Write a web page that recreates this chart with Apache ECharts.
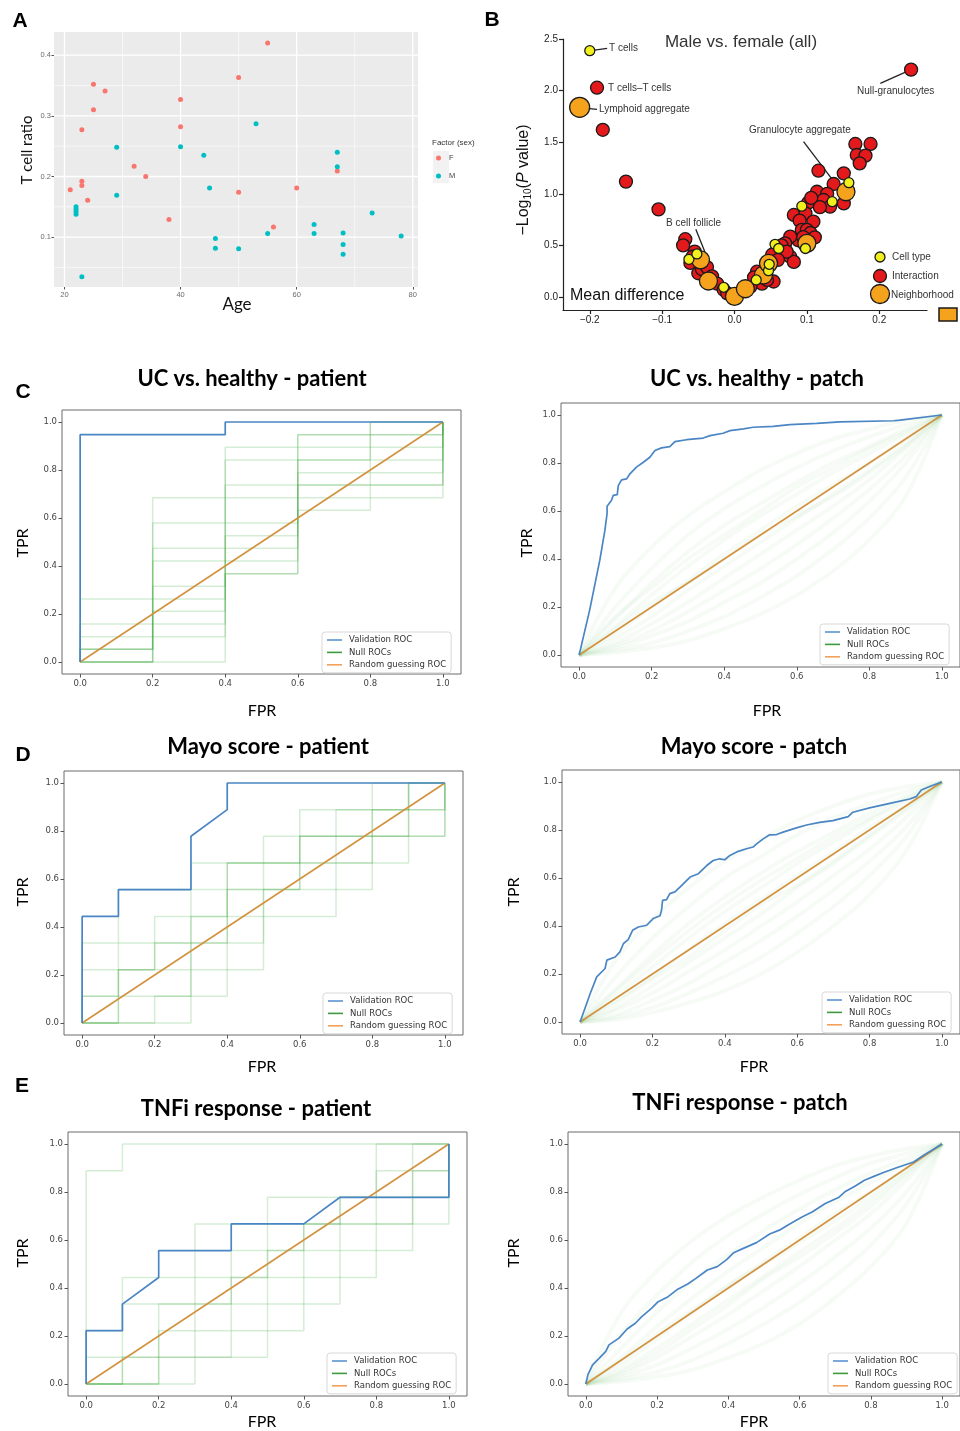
<!DOCTYPE html>
<html>
<head>
<meta charset="utf-8">
<script src="https://cdn.jsdelivr.net/npm/echarts@6/dist/echarts.min.js"></script>
<style>
  html, body { margin: 0; padding: 0; background: #fff; }
  #chart { width: 960px; height: 1431px; }
</style>
</head>
<body>
<div id="chart"></div>
<script>
// ---------- A: T cell ratio vs age ----------
const femaleAge   = [21, 25, 27, 25, 23, 23, 23, 24, 32, 34, 38, 40, 40, 50, 50, 55, 56, 60, 67];
const femaleRatio = [0.178, 0.352, 0.341, 0.310, 0.277, 0.192, 0.185, 0.161, 0.217, 0.200, 0.129, 0.327, 0.282, 0.363, 0.174, 0.420, 0.117, 0.181, 0.209];
const maleAge     = [22, 22, 22, 22, 23, 29, 29, 40, 44, 45, 46, 46, 50, 53, 55, 63, 63, 67, 67, 68, 68, 68, 73, 78];
const maleRatio   = [0.150, 0.146, 0.142, 0.138, 0.035, 0.248, 0.169, 0.249, 0.235, 0.181, 0.098, 0.082, 0.081, 0.287, 0.106, 0.121, 0.106, 0.240, 0.216, 0.107, 0.088, 0.072, 0.140, 0.102];
const ageTicks   = [20, 40, 60, 80];
const ageMinor   = [30, 50, 70];
const ratioTicks = [0.1, 0.2, 0.3, 0.4];
const ratioMinor = [0.05, 0.15, 0.25, 0.35];
const ageRange   = [18.2, 80.9];
const ratioRange = [0.018, 0.438];

// ---------- B: volcano, mean difference vs -log10 p ----------
const cellTypeX = [-0.200, -0.063, -0.052, -0.015, 0.030, 0.047, 0.048, 0.056, 0.061, 0.093, 0.098, 0.135, 0.158];
const cellTypeY = [2.387, 0.365, 0.417, 0.094, 0.165, 0.255, 0.317, 0.51, 0.47, 0.88, 0.47, 0.924, 1.108];
const interX = [-0.190, -0.182, -0.150, -0.105, -0.068, -0.071, -0.055, -0.058, -0.061, -0.050, -0.045, -0.038, -0.031, -0.024, -0.015, -0.010,
  0.244, 0.167, 0.188, 0.169, 0.181, 0.173, 0.116, 0.151, 0.137, 0.114, 0.128, 0.123, 0.102, 0.106, 0.132, 0.118, 0.151, 0.082, 0.098,
  0.109, 0.090, 0.093, 0.100, 0.105, 0.111, 0.088, 0.077, 0.070, 0.065, 0.059, 0.052, 0.077, 0.082, 0.031, 0.042, 0.038, 0.054, 0.045, 0.022, 0.012,
  0.072, 0.095, 0.060, 0.027];
const interY = [2.028, 1.62, 1.118, 0.849, 0.56, 0.50, 0.44, 0.39, 0.33, 0.23, 0.27, 0.29, 0.20, 0.13, 0.07, 0.035,
  2.203, 1.483, 1.483, 1.376, 1.37, 1.295, 1.224, 1.198, 1.095, 1.02, 1.0, 0.94, 0.914, 0.96, 0.875, 0.87, 0.907, 0.795, 0.81,
  0.73, 0.74, 0.65, 0.65, 0.62, 0.578, 0.55, 0.585, 0.52, 0.50, 0.46, 0.41, 0.39, 0.34, 0.245, 0.22, 0.13, 0.15, 0.165, 0.10, 0.068,
  0.44, 0.58, 0.36, 0.19];
const hoodX = [-0.214, -0.047, -0.036, 0.000, 0.015, 0.040, 0.047, 0.100, 0.154];
const hoodY = [1.838, 0.36, 0.155, 0.006, 0.08, 0.213, 0.326, 0.52, 1.02];
const annoFrom = [[-0.196, 2.39], [-0.207, 1.83], [0.244, 2.203], [0.146, 1.037], [-0.0327, 0.294]];
const annoTo   = [[-0.176, 2.41], [-0.190, 1.818], [0.2015, 2.07], [0.0954, 1.505], [-0.0535, 0.656]];
const diffTicks = [-0.2, -0.1, 0, 0.1, 0.2];
const pTicks    = [0, 0.5, 1, 1.5, 2, 2.5];

// ---------- ROC curves ----------
const rocTicks = [0, 0.2, 0.4, 0.6, 0.8, 1.0];
const diagFpr = [0, 1];
const diagTpr = [0, 1];

const valC1Fpr = [0, 0, 0.4, 0.4, 1];
const valC1Tpr = [0, 0.947, 0.947, 1, 1];
const valC2Fpr = [0, 0.029, 0.057, 0.071, 0.077, 0.077, 0.089, 0.094, 0.105, 0.108, 0.117, 0.131, 0.140, 0.158, 0.177, 0.195, 0.209, 0.227, 0.250, 0.264, 0.296, 0.342, 0.361, 0.397, 0.416, 0.453, 0.480, 0.535, 0.581, 0.655, 0.719, 0.867, 0.885, 1];
const valC2Tpr = [0, 0.187, 0.395, 0.519, 0.589, 0.620, 0.644, 0.665, 0.668, 0.706, 0.730, 0.734, 0.755, 0.783, 0.803, 0.824, 0.852, 0.863, 0.868, 0.889, 0.897, 0.904, 0.914, 0.924, 0.935, 0.942, 0.949, 0.953, 0.960, 0.965, 0.971, 0.976, 0.979, 1];
const valD1Fpr = [0, 0, 0.1, 0.1, 0.3, 0.3, 0.4, 0.4, 1];
const valD1Tpr = [0, 0.444, 0.444, 0.556, 0.556, 0.778, 0.889, 1, 1];
const valD2Fpr = [0, 0.028, 0.046, 0.069, 0.074, 0.097, 0.110, 0.120, 0.133, 0.145, 0.161, 0.184, 0.202, 0.221, 0.225, 0.228, 0.239, 0.248, 0.262, 0.281, 0.304, 0.327, 0.350, 0.368, 0.386, 0.400, 0.414, 0.437, 0.460, 0.478, 0.488, 0.506, 0.524, 0.543, 0.561, 0.598, 0.626, 0.662, 0.699, 0.741, 0.754, 0.800, 0.856, 0.911, 0.929, 0.943, 0.966, 1];
const valD2Tpr = [0, 0.119, 0.188, 0.223, 0.258, 0.271, 0.292, 0.327, 0.343, 0.382, 0.396, 0.403, 0.431, 0.443, 0.465, 0.507, 0.510, 0.535, 0.542, 0.569, 0.604, 0.618, 0.652, 0.673, 0.680, 0.676, 0.694, 0.711, 0.722, 0.729, 0.742, 0.763, 0.780, 0.781, 0.791, 0.809, 0.821, 0.832, 0.839, 0.856, 0.874, 0.892, 0.911, 0.929, 0.939, 0.967, 0.981, 1];
const valE1Fpr = [0, 0, 0.1, 0.1, 0.2, 0.2, 0.4, 0.4, 0.6, 0.7, 1, 1];
const valE1Tpr = [0, 0.222, 0.222, 0.333, 0.444, 0.556, 0.556, 0.667, 0.667, 0.778, 0.778, 1];
const valE2Fpr = [0, 0.006, 0.019, 0.038, 0.056, 0.065, 0.093, 0.116, 0.139, 0.157, 0.185, 0.203, 0.231, 0.258, 0.286, 0.309, 0.341, 0.369, 0.396, 0.415, 0.442, 0.479, 0.516, 0.543, 0.571, 0.608, 0.635, 0.672, 0.709, 0.727, 0.755, 0.782, 0.810, 0.837, 0.874, 0.920, 0.948, 1];
const valE2Tpr = [0, 0.039, 0.080, 0.108, 0.136, 0.163, 0.191, 0.229, 0.253, 0.281, 0.316, 0.343, 0.364, 0.395, 0.417, 0.440, 0.475, 0.489, 0.519, 0.547, 0.565, 0.589, 0.625, 0.641, 0.666, 0.697, 0.717, 0.752, 0.777, 0.801, 0.824, 0.849, 0.866, 0.882, 0.902, 0.925, 0.953, 1];

// null ROCs, patient level: step curves as [fpr, tpr] points
const nullC1 = [
  [[0,0],[0,0.053],[0.2,0.053],[0.2,0.421],[0.4,0.421],[0.4,0.684],[0.6,0.684],[0.6,0.947],[0.8,0.947],[0.8,1],[1,1]],
  [[0,0],[0.2,0],[0.2,0.263],[0.4,0.263],[0.4,0.579],[0.6,0.579],[0.6,0.842],[0.8,0.842],[0.8,0.895],[1,0.895],[1,1]],
  [[0,0],[0,0.053],[0.2,0.053],[0.2,0.211],[0.4,0.211],[0.4,0.474],[0.6,0.474],[0.6,0.737],[0.8,0.737],[0.8,0.789],[1,0.789],[1,1]],
  [[0,0],[0.4,0],[0.4,0.368],[0.6,0.368],[0.6,0.632],[0.8,0.632],[0.8,0.684],[1,0.684],[1,1]],
  [[0,0],[0,0.158],[0.2,0.158],[0.2,0.579],[0.4,0.579],[0.4,0.895],[0.6,0.895],[0.6,0.947],[1,0.947],[1,1]],
  [[0,0],[0,0.053],[0.2,0.053],[0.2,0.316],[0.4,0.316],[0.4,0.526],[0.6,0.526],[0.6,0.789],[0.8,0.789],[0.8,0.842],[1,0.842],[1,1]],
  [[0,0],[0.2,0],[0.2,0.105],[0.4,0.105],[0.4,0.368],[0.6,0.368],[0.6,0.684],[0.8,0.684],[0.8,0.737],[1,0.737],[1,1]],
  [[0,0],[0,0.263],[0.2,0.263],[0.2,0.684],[0.4,0.684],[0.4,0.842],[0.8,0.842],[0.8,0.947],[1,0.947],[1,1]],
  [[0,0],[0.2,0],[0.2,0.158],[0.4,0.158],[0.4,0.421],[0.6,0.421],[0.6,0.737],[1,0.737],[1,1]],
  [[0,0],[0,0.105],[0.2,0.105],[0.2,0.474],[0.4,0.474],[0.4,0.737],[0.6,0.737],[0.6,0.895],[0.8,0.895],[0.8,1],[1,1]]
];
const nullD1 = [
  [[0,0],[0,0.111],[0.1,0.111],[0.1,0.222],[0.2,0.222],[0.2,0.333],[0.4,0.333],[0.4,0.556],[0.6,0.556],[0.6,0.778],[0.9,0.778],[0.9,1],[1,1]],
  [[0,0],[0.2,0],[0.2,0.111],[0.4,0.111],[0.4,0.444],[0.5,0.444],[0.5,0.667],[0.8,0.667],[0.8,0.889],[1,0.889],[1,1]],
  [[0,0],[0.1,0],[0.1,0.222],[0.3,0.222],[0.3,0.444],[0.4,0.444],[0.4,0.667],[0.7,0.667],[0.7,0.889],[0.9,0.889],[0.9,1],[1,1]],
  [[0,0],[0,0.111],[0.1,0.111],[0.1,0.333],[0.3,0.333],[0.3,0.556],[0.6,0.556],[0.6,0.778],[1,0.778],[1,1]],
  [[0,0],[0.1,0],[0.1,0.111],[0.3,0.111],[0.3,0.333],[0.5,0.333],[0.5,0.556],[0.8,0.556],[0.8,0.778],[0.9,0.778],[0.9,0.889],[1,0.889],[1,1]],
  [[0,0],[0,0.222],[0.2,0.222],[0.2,0.444],[0.4,0.444],[0.4,0.667],[0.6,0.667],[0.6,0.889],[0.9,0.889],[0.9,1],[1,1]],
  [[0,0],[0.3,0],[0.3,0.222],[0.5,0.222],[0.5,0.444],[0.7,0.444],[0.7,0.667],[0.9,0.667],[0.9,0.778],[1,0.778],[1,1]],
  [[0,0],[0,0.333],[0.1,0.333],[0.1,0.556],[0.3,0.556],[0.3,0.667],[0.5,0.667],[0.5,0.778],[0.8,0.778],[0.8,1],[1,1]]
];
const nullE1 = [
  [[0,0],[0.1,0],[0.1,0.111],[0.3,0.111],[0.3,0.333],[0.5,0.333],[0.5,0.556],[0.7,0.556],[0.7,0.778],[0.9,0.778],[0.9,1],[1,1]],
  [[0,0],[0,0.111],[0.2,0.111],[0.2,0.333],[0.4,0.333],[0.4,0.444],[0.6,0.444],[0.6,0.667],[0.9,0.667],[0.9,0.889],[1,0.889],[1,1]],
  [[0,0],[0.2,0],[0.2,0.222],[0.4,0.222],[0.4,0.556],[0.6,0.556],[0.6,0.667],[0.8,0.667],[0.8,0.889],[1,0.889],[1,1]],
  [[0,0],[0.1,0],[0.1,0.333],[0.3,0.333],[0.3,0.444],[0.5,0.444],[0.5,0.667],[0.7,0.667],[0.7,0.778],[1,0.778],[1,1]],
  [[0,0],[0.3,0],[0.3,0.111],[0.5,0.111],[0.5,0.333],[0.7,0.333],[0.7,0.556],[0.9,0.556],[0.9,0.778],[1,0.778],[1,1]],
  [[0,0],[0,0.222],[0.1,0.222],[0.1,0.444],[0.3,0.444],[0.3,0.667],[0.5,0.667],[0.5,0.778],[0.8,0.778],[0.8,1],[1,1]],
  [[0,0],[0.2,0],[0.2,0.111],[0.4,0.111],[0.4,0.222],[0.6,0.222],[0.6,0.444],[0.8,0.444],[0.8,0.667],[1,0.667],[1,1]],
  [[0,0],[0,0.889],[0.1,0.889],[0.1,1],[1,1]]
];
// null ROCs, patch level: tpr read at these fpr points
const nullGridFpr = [0, 0.1, 0.2, 0.3, 0.4, 0.5, 0.6, 0.7, 0.8, 0.9, 1];
const nullC2 = [
  [0, 0.28, 0.45, 0.58, 0.68, 0.77, 0.84, 0.90, 0.94, 0.98, 1],
  [0, 0.20, 0.36, 0.50, 0.61, 0.70, 0.78, 0.85, 0.91, 0.96, 1],
  [0, 0.15, 0.30, 0.43, 0.54, 0.63, 0.72, 0.80, 0.87, 0.94, 1],
  [0, 0.12, 0.25, 0.37, 0.48, 0.58, 0.67, 0.76, 0.84, 0.92, 1],
  [0, 0.09, 0.20, 0.31, 0.42, 0.52, 0.62, 0.71, 0.80, 0.90, 1],
  [0, 0.07, 0.16, 0.27, 0.37, 0.47, 0.57, 0.67, 0.77, 0.88, 1],
  [0, 0.05, 0.13, 0.22, 0.32, 0.42, 0.52, 0.62, 0.73, 0.86, 1],
  [0, 0.04, 0.10, 0.18, 0.27, 0.36, 0.46, 0.57, 0.69, 0.83, 1],
  [0, 0.03, 0.08, 0.14, 0.22, 0.30, 0.40, 0.51, 0.64, 0.80, 1],
  [0, 0.02, 0.05, 0.10, 0.16, 0.24, 0.33, 0.44, 0.57, 0.74, 1],
  [0, 0.01, 0.03, 0.06, 0.11, 0.17, 0.25, 0.35, 0.48, 0.66, 1],
  [0, 0.11, 0.22, 0.30, 0.40, 0.50, 0.58, 0.66, 0.76, 0.87, 1],
  [0, 0.16, 0.28, 0.40, 0.50, 0.60, 0.70, 0.78, 0.86, 0.93, 1]
];
const nullD2 = [
  [0, 0.26, 0.43, 0.56, 0.67, 0.76, 0.84, 0.90, 0.95, 0.98, 1],
  [0, 0.19, 0.35, 0.48, 0.60, 0.69, 0.78, 0.85, 0.91, 0.96, 1],
  [0, 0.14, 0.28, 0.41, 0.52, 0.62, 0.71, 0.79, 0.87, 0.94, 1],
  [0, 0.11, 0.23, 0.35, 0.46, 0.56, 0.66, 0.75, 0.84, 0.92, 1],
  [0, 0.09, 0.19, 0.30, 0.41, 0.51, 0.61, 0.71, 0.81, 0.90, 1],
  [0, 0.06, 0.15, 0.25, 0.35, 0.45, 0.56, 0.66, 0.77, 0.88, 1],
  [0, 0.05, 0.12, 0.21, 0.30, 0.40, 0.50, 0.61, 0.72, 0.85, 1],
  [0, 0.03, 0.09, 0.16, 0.25, 0.34, 0.44, 0.55, 0.67, 0.81, 1],
  [0, 0.02, 0.06, 0.12, 0.19, 0.27, 0.37, 0.48, 0.61, 0.77, 1],
  [0, 0.01, 0.04, 0.08, 0.13, 0.20, 0.29, 0.40, 0.53, 0.71, 1],
  [0, 0.08, 0.18, 0.27, 0.38, 0.49, 0.57, 0.67, 0.78, 0.89, 1],
  [0, 0.13, 0.26, 0.38, 0.49, 0.59, 0.68, 0.77, 0.85, 0.93, 1]
];
const nullE2 = [
  [0, 0.30, 0.47, 0.60, 0.70, 0.78, 0.85, 0.91, 0.95, 0.98, 1],
  [0, 0.21, 0.37, 0.51, 0.62, 0.71, 0.79, 0.86, 0.92, 0.96, 1],
  [0, 0.15, 0.30, 0.43, 0.54, 0.64, 0.73, 0.81, 0.88, 0.94, 1],
  [0, 0.11, 0.24, 0.36, 0.47, 0.57, 0.67, 0.76, 0.84, 0.92, 1],
  [0, 0.08, 0.19, 0.30, 0.41, 0.51, 0.61, 0.71, 0.80, 0.90, 1],
  [0, 0.06, 0.15, 0.25, 0.35, 0.45, 0.55, 0.65, 0.76, 0.88, 1],
  [0, 0.04, 0.11, 0.20, 0.29, 0.39, 0.49, 0.60, 0.71, 0.85, 1],
  [0, 0.03, 0.08, 0.15, 0.23, 0.32, 0.42, 0.53, 0.65, 0.80, 1],
  [0, 0.02, 0.05, 0.10, 0.17, 0.25, 0.34, 0.45, 0.58, 0.75, 1],
  [0, 0.01, 0.03, 0.06, 0.11, 0.17, 0.25, 0.36, 0.49, 0.67, 1],
  [0, 0.10, 0.21, 0.31, 0.41, 0.50, 0.59, 0.68, 0.78, 0.89, 1],
  [0, 0.05, 0.13, 0.23, 0.33, 0.44, 0.53, 0.63, 0.74, 0.87, 1]
];

const BLUE = '#4a86c4', GREEN = '#2ca02c', ORANGE = '#d3923f';
const pairs = (xs, ys) => xs.map((x, i) => [x, ys[i]]);

const rocPanels = [
  { title: 'UC vs. healthy - patient', grid: { left: 62, top: 410, width: 399, height: 264 }, legend: [322, 632],
    fpr: valC1Fpr, tpr: valC1Tpr, nulls: nullC1, step: true, tx: 252, ty: 379, tprX: 23, tprY: 543, fprX: 262, fprY: 711 },
  { title: 'UC vs. healthy - patch', grid: { left: 561, top: 403, width: 399, height: 264 }, legend: [820, 624],
    fpr: valC2Fpr, tpr: valC2Tpr, nulls: nullC2, step: false, tx: 757, ty: 379, tprX: 527, tprY: 543, fprX: 767, fprY: 711 },
  { title: 'Mayo score - patient', grid: { left: 64, top: 771, width: 399, height: 264 }, legend: [323, 993],
    fpr: valD1Fpr, tpr: valD1Tpr, nulls: nullD1, step: true, tx: 268, ty: 747, tprX: 23, tprY: 892, fprX: 262, fprY: 1067 },
  { title: 'Mayo score - patch', grid: { left: 562, top: 770, width: 399, height: 264 }, legend: [822, 992],
    fpr: valD2Fpr, tpr: valD2Tpr, nulls: nullD2, step: false, tx: 754, ty: 747, tprX: 514, tprY: 892, fprX: 754, fprY: 1067 },
  { title: 'TNFi response - patient', grid: { left: 68, top: 1132, width: 399, height: 264 }, legend: [327, 1353],
    fpr: valE1Fpr, tpr: valE1Tpr, nulls: nullE1, step: true, tx: 256, ty: 1109, tprX: 23, tprY: 1253, fprX: 262, fprY: 1422 },
  { title: 'TNFi response - patch', grid: { left: 568, top: 1132, width: 399, height: 264 }, legend: [828, 1353],
    fpr: valE2Fpr, tpr: valE2Tpr, nulls: nullE2, step: false, tx: 740, ty: 1103, tprX: 514, tprY: 1253, fprX: 754, fprY: 1422 }
];

const chart = echarts.init(document.getElementById('chart'), null, { renderer: 'canvas' });

const grids = [], xAxes = [], yAxes = [], series = [], legends = [], graphics = [];

function text(x, y, str, font, extra, rotation) {
  graphics.push({
    type: 'text', x: x, y: y, z: 10, rotation: rotation || 0,
    style: Object.assign({ text: str, font: font, fill: '#111', textAlign: 'center', textVerticalAlign: 'middle' }, extra || {})
  });
}

// ----- panel A -----
grids.push({ left: 54, top: 32, width: 364, height: 255, show: true, backgroundColor: '#ebebeb', borderWidth: 0 });
xAxes.push({ gridIndex: 0, type: 'value', min: ageRange[0], max: ageRange[1],
  axisLine: { show: false, onZero: false }, splitLine: { show: false },
  axisTick: { show: true, customValues: ageTicks, length: 2.5, lineStyle: { color: '#555' } },
  axisLabel: { customValues: ageTicks, fontSize: 7.5, color: '#6b6b6b', margin: 4, fontFamily: 'Liberation Sans' } });
yAxes.push({ gridIndex: 0, type: 'value', min: ratioRange[0], max: ratioRange[1],
  axisLine: { show: false, onZero: false }, splitLine: { show: false },
  axisTick: { show: true, customValues: ratioTicks, length: 2.5, lineStyle: { color: '#555' } },
  axisLabel: { customValues: ratioTicks, formatter: v => v.toFixed(1), fontSize: 7.5, color: '#6b6b6b', margin: 3, fontFamily: 'Liberation Sans' } });
// ggplot-style white grid, drawn under the points
function gridLine(pts, w) {
  series.push({ type: 'line', xAxisIndex: 0, yAxisIndex: 0, data: pts, z: 1, silent: true, showSymbol: false,
    lineStyle: { color: '#fff', width: w }, itemStyle: { color: '#fff' } });
}
ageMinor.forEach(v => gridLine([[v, ratioRange[0]], [v, ratioRange[1]]], 0.6));
ratioMinor.forEach(v => gridLine([[ageRange[0], v], [ageRange[1], v]], 0.6));
ageTicks.forEach(v => gridLine([[v, ratioRange[0]], [v, ratioRange[1]]], 1.3));
ratioTicks.forEach(v => gridLine([[ageRange[0], v], [ageRange[1], v]], 1.3));
series.push({ type: 'scatter', name: 'F', xAxisIndex: 0, yAxisIndex: 0, z: 3, symbolSize: 5,
  itemStyle: { color: '#F8766D', opacity: 1 }, data: pairs(femaleAge, femaleRatio) });
series.push({ type: 'scatter', name: 'M', xAxisIndex: 0, yAxisIndex: 0, z: 3, symbolSize: 5,
  itemStyle: { color: '#00BFC4', opacity: 1 }, data: pairs(maleAge, maleRatio) });
text(20, 21, 'A', 'bold 21px "Liberation Sans"', { fill: '#000' });
text(27, 150, 'T cell ratio', '15px Lato', {}, Math.PI / 2);
text(237, 305, 'Age', '17px Lato', {});
text(432, 143, 'Factor (sex)', '8px "Liberation Sans"', { textAlign: 'left', fill: '#333' });
graphics.push({ type: 'rect', shape: { x: 433, y: 151, width: 16, height: 16 }, style: { fill: '#f2f2f2' }, z: 5 });
graphics.push({ type: 'rect', shape: { x: 433, y: 167, width: 16, height: 16 }, style: { fill: '#f2f2f2' }, z: 5 });
legends.push({ orient: 'vertical', left: 436, top: 154, data: ['F', 'M'], icon: 'circle', itemWidth: 5, itemHeight: 5,
  itemGap: 10, selectedMode: false, padding: 0, z: 8,
  textStyle: { fontSize: 7.5, color: '#444', fontFamily: 'Liberation Sans', padding: [0, 0, 0, 3] } });

// ----- panel B -----
grids.push({ left: 563, top: 39, width: 364, height: 271 });
xAxes.push({ gridIndex: 1, type: 'value', min: -0.237, max: 0.266,
  axisLine: { show: true, onZero: false, lineStyle: { color: '#222', width: 1.2 } }, splitLine: { show: false },
  axisTick: { show: true, customValues: diffTicks, length: 4, lineStyle: { color: '#222', width: 1.2 } },
  axisLabel: { customValues: diffTicks, formatter: v => (v < 0 ? '\u2212' + Math.abs(v).toFixed(1) : v.toFixed(1)),
    fontSize: 10, color: '#222', margin: 5, fontFamily: 'Liberation Sans' } });
yAxes.push({ gridIndex: 1, type: 'value', min: -0.126, max: 2.5,
  axisLine: { show: true, onZero: false, lineStyle: { color: '#222', width: 1.2 } }, splitLine: { show: false },
  axisTick: { show: true, customValues: pTicks, length: 4, lineStyle: { color: '#222', width: 1.2 } },
  axisLabel: { customValues: pTicks, formatter: v => v.toFixed(1), fontSize: 10, color: '#222', margin: 5, fontFamily: 'Liberation Sans' } });
const rim = { borderColor: '#1a1a1a', borderWidth: 1.3 };
series.push({ type: 'lines', coordinateSystem: 'cartesian2d', xAxisIndex: 1, yAxisIndex: 1, z: 2, silent: true,
  lineStyle: { color: '#222', width: 1.3, opacity: 1 },
  data: annoFrom.map((p, i) => ({ coords: [p, annoTo[i]] })) });
series.push({ type: 'scatter', name: 'Interaction', xAxisIndex: 1, yAxisIndex: 1, z: 3, symbolSize: 13,
  itemStyle: Object.assign({ color: '#e3191c', opacity: 1 }, rim), data: pairs(interX, interY) });
series.push({ type: 'scatter', name: 'Neighborhood', xAxisIndex: 1, yAxisIndex: 1, z: 4,
  symbolSize: (v, p) => (p.dataIndex === 0 ? 20 : 18),
  itemStyle: Object.assign({ color: '#f5a21c', opacity: 1 }, rim), data: pairs(hoodX, hoodY) });
series.push({ type: 'scatter', name: 'Cell type', xAxisIndex: 1, yAxisIndex: 1, z: 5, symbolSize: 10,
  itemStyle: Object.assign({ color: '#f2f01c', opacity: 1 }, rim), data: pairs(cellTypeX, cellTypeY) });
text(492, 20, 'B', 'bold 21px "Liberation Sans"', { fill: '#000' });
text(741, 42, 'Male vs. female (all)', '17px "Liberation Sans"', { fill: '#333' });
text(570, 296, 'Mean difference', '16px "Liberation Sans"', { textAlign: 'left', fill: '#111' });
graphics.push({ type: 'text', x: 524, y: 180, rotation: Math.PI / 2, z: 10,
  style: { text: '{a|\u2212Log}{s|10}{a|(}{i|P}{a| value)}', textAlign: 'center', textVerticalAlign: 'middle',
    rich: { a: { fontSize: 16, fontFamily: 'Liberation Sans', fill: '#111' },
            s: { fontSize: 10, fontFamily: 'Liberation Sans', fill: '#111', padding: [9, 0, 0, 0] },
            i: { fontSize: 16, fontFamily: 'Liberation Sans', fontStyle: 'italic', fill: '#111' } } } });
const annoLabels = [['T cells', 609, 48], ['T cells\u2013T cells', 608, 88], ['Lymphoid aggregate', 599, 109],
  ['Null-granulocytes', 857, 91], ['Granulocyte aggregate', 749, 130], ['B cell follicle', 666, 223]];
annoLabels.forEach(a => text(a[1], a[2], a[0], '10px "Liberation Sans"', { textAlign: 'left', fill: '#333' }));
// B legend
graphics.push({ type: 'circle', shape: { cx: 880, cy: 257, r: 5 }, style: { fill: '#f2f01c', stroke: '#1a1a1a', lineWidth: 1.3 }, z: 9 });
graphics.push({ type: 'circle', shape: { cx: 880, cy: 276, r: 6.5 }, style: { fill: '#e3191c', stroke: '#1a1a1a', lineWidth: 1.3 }, z: 9 });
graphics.push({ type: 'circle', shape: { cx: 880, cy: 294, r: 9.5 }, style: { fill: '#f5a21c', stroke: '#1a1a1a', lineWidth: 1.3 }, z: 9 });
graphics.push({ type: 'rect', shape: { x: 939, y: 308, width: 18, height: 13 }, style: { fill: '#f5a21c', stroke: '#1a1a1a', lineWidth: 1.5 }, z: 9 });
text(892, 257, 'Cell type', '10px "Liberation Sans"', { textAlign: 'left', fill: '#333' });
text(892, 276, 'Interaction', '10px "Liberation Sans"', { textAlign: 'left', fill: '#333' });
text(891, 295, 'Neighborhood', '10px "Liberation Sans"', { textAlign: 'left', fill: '#333' });

// ----- ROC panels -----
rocPanels.forEach((p, k) => {
  const gi = k + 2;
  grids.push(Object.assign({ show: true, borderColor: '#6a6a6a', borderWidth: 1, backgroundColor: '#fff' }, p.grid));
  const axisCommon = {
    gridIndex: gi, type: 'value', min: -0.05, max: 1.05,
    axisLine: { show: false, onZero: false }, splitLine: { show: false },
    axisTick: { show: true, customValues: rocTicks, length: 3.5, lineStyle: { color: '#555' } },
    axisLabel: { customValues: rocTicks, formatter: v => v.toFixed(1), fontSize: 8.5, color: '#444', margin: 5, fontFamily: 'DejaVu Sans' }
  };
  xAxes.push(Object.assign({}, axisCommon));
  yAxes.push(Object.assign({}, axisCommon));
  p.nulls.forEach(c => {
    const data = p.step ? c : pairs(nullGridFpr, c);
    series.push({ type: 'line', name: 'Null ROCs', xAxisIndex: gi, yAxisIndex: gi, data: data, z: 2,
      showSymbol: false, silent: true, smooth: p.step ? false : 0.35,
      itemStyle: { color: GREEN },
      lineStyle: { color: GREEN, width: p.step ? 1.5 : 4, opacity: p.step ? 0.2 : 0.045 } });
  });
  series.push({ type: 'line', name: 'Random guessing ROC', xAxisIndex: gi, yAxisIndex: gi, data: pairs(diagFpr, diagTpr), z: 3,
    showSymbol: false, silent: true, itemStyle: { color: ORANGE }, lineStyle: { color: ORANGE, width: 1.6 } });
  series.push({ type: 'line', name: 'Validation ROC', xAxisIndex: gi, yAxisIndex: gi, data: pairs(p.fpr, p.tpr), z: 4,
    showSymbol: false, silent: true, itemStyle: { color: BLUE }, lineStyle: { color: BLUE, width: 1.7 } });
  legends.push({ orient: 'vertical', left: p.legend[0], top: p.legend[1], selectedMode: false, z: 8,
    data: [{ name: 'Validation ROC', itemStyle: { color: '#5b93cf' } },
           { name: 'Null ROCs', itemStyle: { color: '#3f9a3f', opacity: 1 } },
           { name: 'Random guessing ROC', itemStyle: { color: '#f3a05a' } }],
    icon: 'rect', itemWidth: 15, itemHeight: 1.6, itemGap: 2.4,
    backgroundColor: 'rgba(255,255,255,0.85)', borderColor: '#d8d8d8', borderWidth: 1, borderRadius: 3, padding: [3, 5, 3, 5],
    textStyle: { fontSize: 8.5, lineHeight: 10, color: '#333', fontFamily: 'DejaVu Sans', padding: [0, 0, 0, 2] } });
  text(p.tx, p.ty, p.title, 'bold 22px Lato', { fill: '#000' });
  text(p.tprX, p.tprY, 'TPR', '16px Lato', { fill: '#000' }, Math.PI / 2);
  text(p.fprX, p.fprY, 'FPR', '16px Lato', { fill: '#000' });
});
text(23, 392, 'C', 'bold 21px "Liberation Sans"', { fill: '#000' });
text(23, 755, 'D', 'bold 21px "Liberation Sans"', { fill: '#000' });
text(22, 1086, 'E', 'bold 21px "Liberation Sans"', { fill: '#000' });

chart.setOption({
  animation: false,
  backgroundColor: '#fff',
  grid: grids,
  xAxis: xAxes,
  yAxis: yAxes,
  legend: legends,
  series: series,
  graphic: { elements: graphics }
});
</script>
</body>
</html>
